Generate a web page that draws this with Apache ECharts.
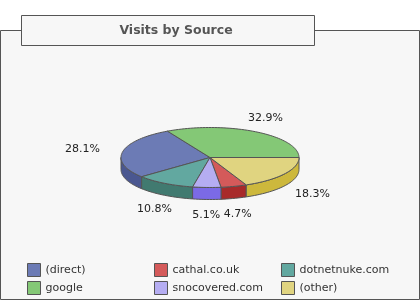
<!DOCTYPE html>
<html><head><meta charset="utf-8">
<script src="https://cdn.jsdelivr.net/npm/echarts@6/dist/echarts.min.js"></script>
<style>html,body{margin:0;padding:0;background:#fff}#c{width:420px;height:300px}</style>
</head><body><div id="c"></div>
<script>
const titleText = 'Visits by Source';
const categories = ['(direct)', 'cathal.co.uk', 'dotnetnuke.com', 'google', 'snocovered.com', '(other)'];
const shares = [28.1, 4.7, 10.8, 32.9, 5.1, 18.3];
// slice order, counter-clockwise starting at 3 o'clock
const sliceOrder = ['google', '(direct)', 'dotnetnuke.com', 'snocovered.com', 'cathal.co.uk', '(other)'];
const topColors = ['#6c7bb5', '#d45a5a', '#62a8a0', '#84c876', '#b5adf2', '#e0d480'];
const sideColors = ['#4a5790', '#a82a2a', '#417a70', '#5e9a50', '#7b6ae6', '#cdb83c'];

const CX = 210, CY = 157.5, RX = 89, RY = 30, DEPTH = 12;
const total = shares.reduce((a, b) => a + b, 0);
function startAngle(name) {
  let s = 0;
  for (const n of sliceOrder) { if (n === name) break; s += shares[categories.indexOf(n)]; }
  return s / total * 360;
}
function pt(deg, dy) {
  const r = deg * Math.PI / 180;
  return [CX + RX * Math.cos(r), CY - RY * Math.sin(r) + (dy || 0)];
}
function arc(a0, a1, dy) {
  const pts = [];
  const n = Math.max(2, Math.ceil((a1 - a0) / 2));
  for (let k = 0; k <= n; k++) pts.push(pt(a0 + (a1 - a0) * k / n, dy));
  return pts;
}
const font = '11px "DejaVu Sans", sans-serif';

const series = categories.map((name, i) => ({
  type: 'custom',
  name: name,
  coordinateSystem: 'none',
  itemStyle: { color: topColors[i] },
  silent: true,
  data: [[shares[i]]],
  renderItem: function (params, api) {
    const v = api.value(0);
    const a0 = startAngle(name);
    const a1 = a0 + v / total * 360;
    const children = [];
    // side wall (front half: 180..360)
    const s0 = Math.max(a0, 180), s1 = Math.min(a1, 360);
    if (s1 > s0) {
      const topArc = arc(s0, s1, 0);
      const botArc = arc(s0, s1, DEPTH).reverse();
      children.push({ type: 'polygon', z2: 1, shape: { points: topArc.concat(botArc) },
        style: { fill: sideColors[i], stroke: '#555', lineWidth: 1, lineJoin: 'round' } });
    }
    // top face
    children.push({ type: 'polygon', z2: 10, shape: { points: [[CX, CY]].concat(arc(a0, a1, 0)) },
      style: { fill: topColors[i], stroke: '#555', lineWidth: 1, lineJoin: 'round' } });
    // label
    const mid = (a0 + a1) / 2 * Math.PI / 180;
    const c = Math.cos(mid), s = Math.sin(mid);
    const lr = 131 - 30 * s * s;
    const lx = CX + c * lr;
    const ly = CY - s * 46 + (s < 0 ? DEPTH : 0);
    children.push({ type: 'text', z2: 20, style: { text: v.toFixed(1) + '%', x: lx, y: ly,
      align: 'center', verticalAlign: 'middle', fill: '#222', font: font } });
    return { type: 'group', children: children };
  }
}));

function legendCol(left, names) {
  return {
    data: names, orient: 'vertical', left: left, top: 263, itemWidth: 13, itemHeight: 13, itemGap: 4,
    icon: 'rect', selectedMode: false, padding: 0,
    itemStyle: { borderColor: '#555', borderWidth: 1 },
    textStyle: { color: '#333', fontSize: 11, fontFamily: 'DejaVu Sans' }
  };
}

const chart = echarts.init(document.getElementById('c'), null, { renderer: 'canvas' });
chart.setOption({
  animation: false,
  backgroundColor: '#ffffff',
  graphic: [
    { type: 'rect', z: -10, shape: { x: 0.5, y: 30.5, width: 419, height: 269 },
      style: { fill: '#f7f7f7', stroke: '#555', lineWidth: 1 } },
    { type: 'rect', z: -5, shape: { x: 21.5, y: 15.5, width: 293, height: 30 },
      style: { fill: '#f7f7f7', stroke: '#555', lineWidth: 1 } },
    { type: 'text', z: -4, style: { text: titleText, x: 176, y: 30.5, align: 'center', verticalAlign: 'middle',
      fill: '#555', font: 'bold 12.5px "DejaVu Sans", sans-serif' } }
  ],
  legend: [
    legendCol(27, [categories[0], categories[3]]),
    legendCol(154, [categories[1], categories[4]]),
    legendCol(281, [categories[2], categories[5]])
  ],
  series: series
});
</script></body></html>
